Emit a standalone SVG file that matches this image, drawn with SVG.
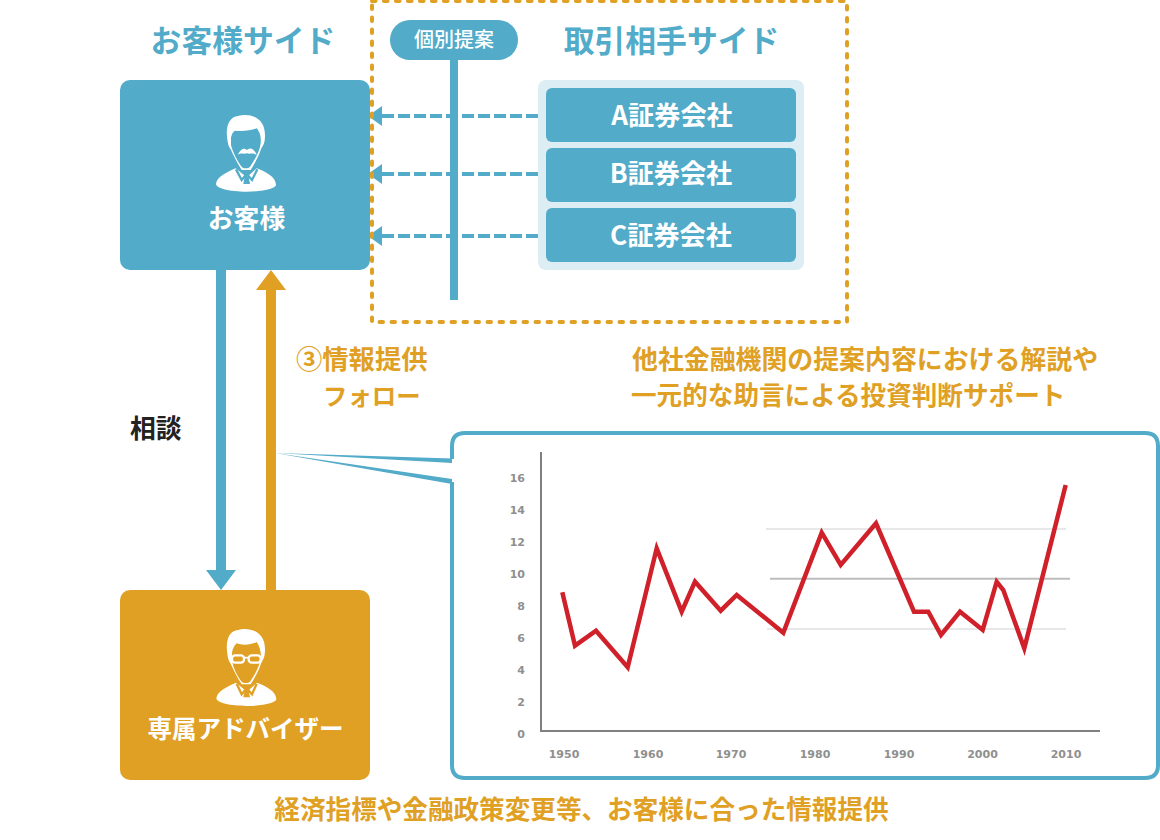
<svg xmlns="http://www.w3.org/2000/svg" width="1160" height="840" viewBox="0 0 1160 840">
<style>
text{font-family:"Noto Sans CJK JP","Noto Sans",sans-serif;font-weight:700}
.w{fill:#fff;text-anchor:middle}
.b{fill:#52abc8}
.o{fill:#e0a024}
.t{fill:#8f8f8f;font-family:"DejaVu Sans",sans-serif;font-size:11px;text-anchor:middle;font-weight:700}
.dash{fill:none;stroke:#52abc8;stroke-width:4;stroke-dasharray:12 4}
.grid{fill:none;stroke:#e8e8e8;stroke-width:2}
</style>
<defs>
<g id="body">
<path d="M348,372 C350,350 385,335 407,325 L440,352 L470,325 C495,335 528,350 528,375 C528,385 490,395 440,395 C390,395 348,385 348,372Z" fill="#fff"/>
</g>
</defs>

<g id="connectors">
<rect x="216" y="270" width="10" height="301" class="b"/><path d="M206,570H236L221,590Z" class="b"/>
<rect x="266" y="289" width="10" height="301" class="o"/><path d="M256,290H286L271,270Z" class="o"/>
<path d="M382,116H538" class="dash"/><path d="M382,106V126L368,116Z" class="b"/>
<path d="M382,174H538" class="dash"/><path d="M382,164V184L368,174Z" class="b"/>
<path d="M382,236H538" class="dash"/><path d="M382,226V246L368,236Z" class="b"/>
<rect x="450" y="50" width="8" height="250" class="b"/>
<path d="M275,453L452,458.500V463Z" class="b"/>
<path d="M275,453L452,479V484Z" class="b"/>
</g>

<g id="frame-dashed"><rect x="372" y="1" width="475" height="321" fill="none" stroke="#e0a024" stroke-width="4" stroke-linecap="round" stroke-dasharray="3.500 8.500"/></g>

<g id="customer">
<rect x="120" y="80" width="250" height="190" rx="10" class="b"/>
<g transform="translate(100,60) scale(.33333)">
<use href="#body"/>
<path d="M383,245 C375,205 385,170 415,168 C440,160 495,165 495,225 C495,250 490,255 484,265 C478,285 465,310 452,330 L425,330 C412,310 400,285 392,268 C386,260 385,255 383,245Z" fill="#fff"/>
<path d="M393,240 C392,228 398,215 405,212 C425,215 455,212 470,205 C478,215 484,225 482,250 C480,270 468,295 450,320 C445,326 430,326 425,320 C412,305 398,275 393,255Z" fill="#52abc8"/>
<path d="M413,285 C425,260 438,265 441,271 C446,262 462,262 470,285 C460,277 450,283 441,280 C430,283 422,277 413,285Z" fill="#fff"/>
<path d="M408,328 L425,360 L440,342 L456,360 L472,328" fill="none" stroke="#52abc8" stroke-width="7"/>
<path d="M434,350H446L450,372H430Z" fill="#52abc8"/>
</g>
<text x="246.500" y="228" font-size="25.800" class="w">お客様</text>
</g>

<g id="adviser">
<rect x="120" y="590" width="250" height="190" rx="10" class="o"/>
<g transform="translate(100,580) scale(.33333)">
<g transform="translate(1,-17)"><use href="#body"/></g>
<path d="M383,228 C375,185 385,152 415,150 C440,142 495,148 495,208 C495,232 490,238 484,248 C478,268 465,293 452,313 L425,313 C412,293 400,268 392,251 C386,243 385,238 383,228Z" fill="#fff"/>
<path d="M396,222 C396,212 400,200 410,190 C425,197 455,195 470,186 C478,198 482,210 483,228 C480,255 468,280 450,305 C445,310 430,310 425,305 C412,290 398,260 396,240Z" fill="#e0a024"/>
<rect x="396" y="226" width="36" height="22" rx="9" fill="none" stroke="#fff" stroke-width="7"/>
<rect x="446" y="226" width="36" height="22" rx="9" fill="none" stroke="#fff" stroke-width="7"/>
<path d="M432,233H446" stroke="#fff" stroke-width="5"/>
<path d="M410,311 L425,343 L440,325 L456,343 L470,311" fill="none" stroke="#e0a024" stroke-width="7"/>
<path d="M434,333H446L450,352H430Z" fill="#e0a024"/>
</g>
<text x="245.500" y="738" font-size="24.500" class="w">専属アドバイザー</text>
</g>

<g id="pill">
<rect x="390" y="20" width="128" height="40" rx="20" class="b"/>
<text x="454" y="47" font-size="20" class="w" style="font-weight:500">個別提案</text>
</g>

<g id="panel"><rect x="538" y="80" width="266" height="190" rx="8" fill="#dcedf4"/></g>
<g id="a-sec"><rect x="546" y="88" width="250" height="54" rx="6" class="b"/><text x="672" y="125" font-size="26.200" class="w">A証券会社</text></g>
<g id="b-sec"><rect x="546" y="148" width="250" height="54" rx="6" class="b"/><text x="671" y="183" font-size="26.200" class="w">B証券会社</text></g>
<g id="c-sec"><rect x="546" y="208" width="250" height="54" rx="6" class="b"/><text x="671" y="245" font-size="26.200" class="w">C証券会社</text></g>

<g id="labels">
<text x="243" y="52" font-size="30.800" class="b" text-anchor="middle">お客様サイド</text>
<text x="671.500" y="52" font-size="30.800" class="b" text-anchor="middle">取引相手サイド</text>
<text x="296" y="369" font-size="26.300" class="o">③情報提供</text>
<text x="323" y="405" font-size="24.400" class="o">フォロー</text>
<text x="130" y="438" font-size="25.800" fill="#222">相談</text>
<text x="632" y="369" font-size="25.900" class="o">他社金融機関の提案内容における解説や</text>
<text x="631" y="405" font-size="25.600" class="o">一元的な助言による投資判断サポート</text>
<text x="581.500" y="819" font-size="25.600" class="o" text-anchor="middle">経済指標や金融政策変更等、お客様に合った情報提供</text>
</g>

<g id="chart">
<path d="M452,459V446Q452,433 465,433H1145Q1158,433 1158,446V765Q1158,778 1145,778H465Q452,778 452,765V482" fill="none" stroke="#52abc8" stroke-width="4"/>
<path d="M766,529H1066M767,629H1066" class="grid"/>
<path d="M770,578.700H1070" fill="none" stroke="#bdbdbd" stroke-width="2"/>
<path d="M541,452V731H1100" fill="none" stroke="#808080" stroke-width="2"/>
<polyline points="562.300,592.300 575,645.700 596,630.700 627.700,667.300 656.700,548.300 681.700,611.700 695,581.700 720.700,610.700 736.700,595 783.300,632.700 821.700,532.700 840.700,565 876,523.300 914,611.700 928.300,611.700 941,635 960,611.700 982.700,630 996.700,581.700 1003.300,590 1024.300,648.300 1065.700,485" fill="none" stroke="#d0202a" stroke-width="4.500"/>
<g>
<text x="525" y="482" class="t" style="text-anchor:end">16</text>
<text x="525" y="514" class="t" style="text-anchor:end">14</text>
<text x="525" y="546" class="t" style="text-anchor:end">12</text>
<text x="525" y="578" class="t" style="text-anchor:end">10</text>
<text x="525" y="610" class="t" style="text-anchor:end">8</text>
<text x="525" y="642" class="t" style="text-anchor:end">6</text>
<text x="525" y="674" class="t" style="text-anchor:end">4</text>
<text x="525" y="706" class="t" style="text-anchor:end">2</text>
<text x="525" y="738" class="t" style="text-anchor:end">0</text>
<text x="564" y="758" class="t">1950</text>
<text x="648" y="758" class="t">1960</text>
<text x="731" y="758" class="t">1970</text>
<text x="815" y="758" class="t">1980</text>
<text x="899" y="758" class="t">1990</text>
<text x="982.500" y="758" class="t">2000</text>
<text x="1066" y="758" class="t">2010</text>
</g>
</g>
</svg>
